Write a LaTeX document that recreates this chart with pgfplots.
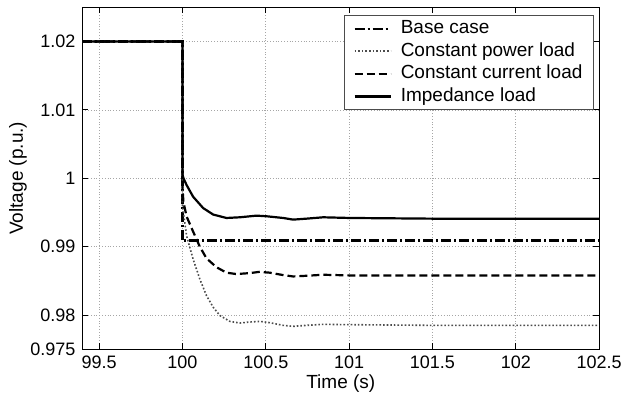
\documentclass[border=0pt]{standalone}
\usepackage{fontspec}
\setmainfont{Liberation Sans}
\usepackage{pgfplots}
\pgfplotsset{compat=1.18}
\begin{document}
\begin{tikzpicture}
\useasboundingbox (-41.25pt,-23.5pt) rectangle (269.25pt,174.65pt);
\begin{axis}[
  at={(0,0)}, anchor=south west,
  width=258.3pt, height=171pt, scale only axis,
  xmin=99.4, xmax=102.5, ymin=0.975, ymax=1.025,
  xtick={99.5,100,100.5,101,101.5,102,102.5},
  xticklabels={99.5,100,100.5,101,101.5,102,102.5},
  ytick={0.975,0.98,0.99,1,1.01,1.02},
  yticklabels={0.975,0.98,0.99,1,1.01,1.02},
  grid=major, major grid style={densely dotted, gray!70, line width=0.4pt},
  tick align=inside, major tick length=3pt,
  tick style={black, line width=0.5pt},
  axis line style={line width=0.6pt},
  ticklabel style={font=\fontsize{9}{11}\selectfont},
  label style={font=\fontsize{9.5}{11}\selectfont},
  xlabel={Time (s)}, ylabel={Voltage (p.u.)},
  xlabel style={at={(axis description cs:0.5,-0.0994)}, anchor=center},
  ylabel style={at={(axis description cs:-0.125,0.5)}, anchor=center},
  legend style={at={(rel axis cs:0.99,0.977)}, anchor=north east, draw=black!70,
    line width=0.5pt, fill=white, font=\fontsize{9.5}{11}\selectfont,
    inner xsep=4.5pt, inner ysep=1pt, column sep=3.5pt, row sep=0.3pt,
    nodes={inner sep=1pt, text height=7pt, text depth=2pt}},
  legend cell align=left,
  legend image code/.code={\draw[#1] (0pt,0pt) -- (18pt,0pt);},
]
\addplot[black, line width=1.1pt, dash pattern=on 5pt off 1.5pt on 1pt off 1.5pt] coordinates {
(99.4,1.02)(100,1.02)(100,0.9909)(102.5,0.9909)};
\addlegendentry{Base case}
\addplot[black!70, line width=0.8pt, densely dotted] coordinates {
(99.4,1.02)(100,1.02)(100,0.996)(100.025,0.99155)(100.064,0.98816)(100.104,0.98527)(100.144,0.98285)(100.184,0.98116)(100.224,0.97995)(100.284,0.97908)(100.344,0.97884)(100.404,0.97899)(100.464,0.97908)(100.524,0.97889)(100.604,0.9785)(100.664,0.97836)(100.744,0.9785)(100.844,0.97865)(101.004,0.9786)(101.5,0.9785)(102.5,0.9785)};
\addlegendentry{Constant power load}
\addplot[black, line width=1.1pt, dash pattern=on 4pt off 2pt] coordinates {
(99.4,1.02)(100,1.02)(100,0.9985)(100.006,0.9965)(100.025,0.9944)(100.064,0.9922)(100.104,0.9900)(100.144,0.9883)(100.204,0.9870)(100.264,0.9862)(100.324,0.9860)(100.404,0.98614)(100.464,0.98633)(100.524,0.9862)(100.604,0.98585)(100.664,0.98565)(100.744,0.98575)(100.844,0.9859)(101.004,0.9858)(102.5,0.9858)};
\addlegendentry{Constant current load}
\addplot[black, line width=1.1pt] coordinates {
(99.4,1.02)(100,1.02)(100,1.0005)(100.008,0.9999)(100.025,0.9990)(100.064,0.9973)(100.124,0.99565)(100.184,0.9947)(100.264,0.9942)(100.344,0.9943)(100.444,0.99454)(100.504,0.99445)(100.604,0.9942)(100.664,0.99396)(100.744,0.9941)(100.844,0.9943)(101.004,0.9942)(101.5,0.9941)(102.5,0.9941)};
\addlegendentry{Impedance load}
\end{axis}
\end{tikzpicture}
\end{document}
